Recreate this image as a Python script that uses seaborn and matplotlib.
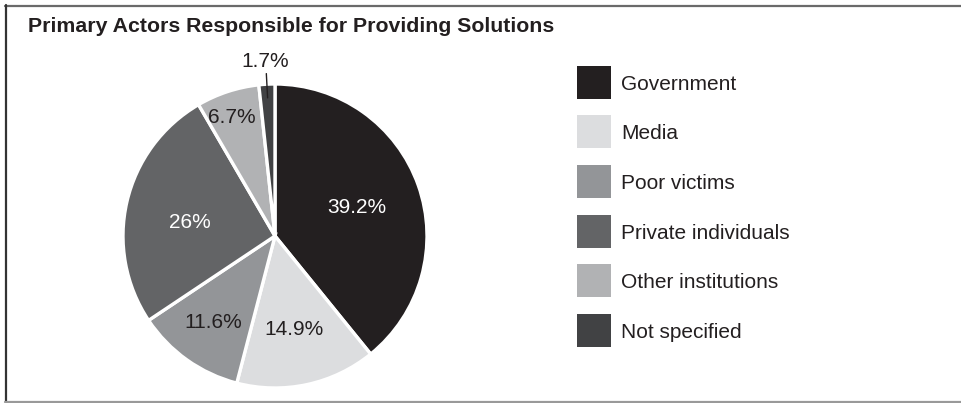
import numpy as np
import matplotlib
matplotlib.use("Agg")
import matplotlib.pyplot as plt
from matplotlib.patches import Rectangle
from matplotlib.lines import Line2D
import seaborn as sns

categories = ["Government", "Media", "Poor victims", "Private individuals",
              "Other institutions", "Not specified"]
values = [39.2, 14.9, 11.6, 26, 6.7, 1.7]
value_labels = ["39.2%", "14.9%", "11.6%", "26%", "6.7%", "1.7%"]
colors = ["#231f20", "#dcdddf", "#939598", "#636466", "#b1b2b4", "#414244"]
label_colors = ["white", "#231f20", "#231f20", "white", "#231f20", "#231f20"]
label_radius = [0.57, 0.63, 0.70, 0.57, 0.83, 1.15]
label_angle_shift = [0, -1, 0, 4, 2, 0]
title = "Primary Actors Responsible for Providing Solutions"

sns.set_theme(style="white")
plt.rcParams["font.family"] = ["Liberation Sans", "DejaVu Sans"]

W, H = 962, 403
fig = plt.figure(figsize=(W / 100, H / 100), dpi=100)
fig.patch.set_facecolor("white")

cx, cy, r = 275, 236, 152
ax = fig.add_axes([(cx - r) / W, (H - cy - r) / H, 2 * r / W, 2 * r / H])
wedges, _ = ax.pie(values, colors=colors, startangle=90, counterclock=False,
                   wedgeprops=dict(edgecolor="white", linewidth=2.4))
ax.set_xlim(-1, 1)
ax.set_ylim(-1, 1)
ax.set_aspect("equal")
ax.axis("off")

for w, lab, lc, lr, da in zip(wedges, value_labels, label_colors, label_radius,
                              label_angle_shift):
    mid = np.deg2rad((w.theta1 + w.theta2) / 2)
    ang = mid + np.deg2rad(da)
    x, y = lr * np.cos(ang), lr * np.sin(ang)
    ax.text(x, y, lab, ha="center", va="center", color=lc, fontsize=15,
            clip_on=False)
    if lr > 1:
        ax.plot([0.91 * np.cos(mid), 1.07 * np.cos(mid)],
                [0.91 * np.sin(mid), 1.07 * np.sin(mid)],
                color="#231f20", lw=1.0, clip_on=False)

fig.text(28 / W, 1 - 31.5 / H, title, fontsize=15.3, fontweight="bold",
         color="#231f20", ha="left", va="baseline")

# legend drawn as swatches + text rows
x0, sw, sh = 577, 34, 33
for i, (cat, col) in enumerate(zip(categories, colors)):
    yc = 82 + i * 49.7
    fig.add_artist(Rectangle((x0 / W, 1 - (yc + sh / 2) / H), sw / W, sh / H,
                             transform=fig.transFigure, facecolor=col,
                             edgecolor="none"))
    fig.text(621 / W, 1 - yc / H, cat, fontsize=15, color="#231f20",
             ha="left", va="center_baseline")

# outer frame
fig.add_artist(Line2D([5 / W, 1], [1 - 5.5 / H, 1 - 5.5 / H], transform=fig.transFigure,
                      color="#6a6a6a", lw=1.6))
fig.add_artist(Line2D([5.5 / W, 5.5 / W], [1 - 5 / H, 1 - 402 / H], transform=fig.transFigure,
                      color="#333333", lw=1.6))
fig.add_artist(Line2D([5 / W, 1], [1 - 401.5 / H, 1 - 401.5 / H], transform=fig.transFigure,
                      color="#999999", lw=1.6))

fig.savefig("out.png", dpi=100, facecolor="white")
